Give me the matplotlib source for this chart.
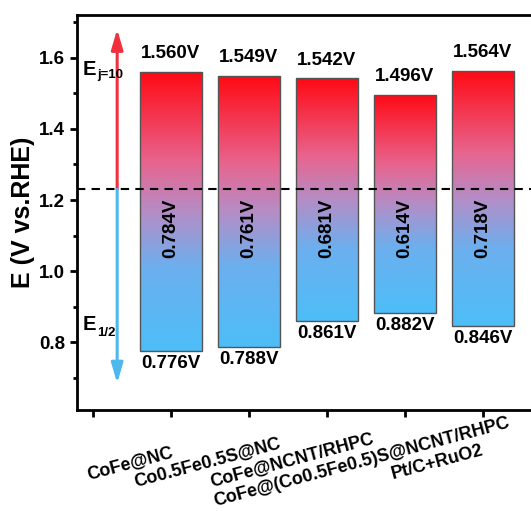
import numpy as np
import matplotlib
matplotlib.use("Agg")
import matplotlib.pyplot as plt
from matplotlib.colors import LinearSegmentedColormap
from matplotlib.transforms import blended_transform_factory

plt.rcParams["font.family"] = ["Liberation Sans", "DejaVu Sans"]
plt.rcParams["font.weight"] = "bold"

samples = ["CoFe@NC", "Co0.5Fe0.5S@NC", "CoFe@NCNT/RHPC",
           "CoFe@(Co0.5Fe0.5)S@NCNT/RHPC", "Pt/C+RuO2"]
e_j10 = [1.560, 1.549, 1.542, 1.496, 1.564]
e_half = [0.776, 0.788, 0.861, 0.882, 0.846]
positions = [1, 2, 3, 4, 5]

# label offsets (pixels) from tick / bottom spine
label_dx = [-41, -42, -35, -43, -46]
label_dy = [-54, -52, -50, -52, -52]

cmap = LinearSegmentedColormap.from_list(
    "orr", [(0.0, "#4dbef8"), (0.3, "#6cafee"), (0.5, "#b58dc6"),
            (0.68, "#e8648e"), (1.0, "#ff0a14")])

fig = plt.figure(figsize=(5.31, 5.11), dpi=100)
ax = fig.add_axes([77 / 531, 1 - 410 / 511, 1 - 77 / 531 + 0.002, (410 - 15) / 511])

grad = np.linspace(0, 1, 256).reshape(-1, 1)
width = 0.8
for x, top, bot in zip(positions, e_j10, e_half):
    bar = ax.bar(x, top - bot, bottom=bot, width=width, facecolor="none",
                 edgecolor="#555555", linewidth=1.0, zorder=3)[0]
    im = ax.imshow(grad, cmap=cmap, origin="lower", aspect="auto",
                   extent=(x - width / 2, x + width / 2, bot, top), zorder=2)
    im.set_clip_path(bar)
    ax.annotate(f"{top:.3f}V", (x, top), xytext=(0, 7), textcoords="offset points",
                ha="center", va="bottom", fontsize=13.5, fontweight="bold")
    ax.annotate(f"{bot:.3f}V", (x, bot), xytext=(0, -3), textcoords="offset points",
                ha="center", va="top", fontsize=13.5, fontweight="bold")
    ax.text(x, 1.12, f"{top - bot:.3f}V", rotation=90, ha="center", va="center",
            fontsize=13.5, fontweight="bold", zorder=4)

ax.axhline(1.23, color="black", linestyle=(0, (4, 3)), linewidth=1.5, zorder=5)

# potential arrows
ax.annotate("", xy=(0.31, 1.68), xytext=(0.31, 1.23), zorder=4,
            arrowprops=dict(arrowstyle="-|>,head_width=0.35,head_length=1.2",
                            color="#f0303c", lw=2.2, shrinkA=0, shrinkB=0))
ax.annotate("", xy=(0.31, 0.685), xytext=(0.31, 1.23), zorder=4,
            arrowprops=dict(arrowstyle="-|>,head_width=0.35,head_length=1.2",
                            color="#4cb8ee", lw=2.2, shrinkA=0, shrinkB=0))

for y, sub, sub_dy in [(1.552, "j=10", -2.2), (0.834, "1/2", -4.3)]:
    ax.text(-0.128, y, "E", fontsize=14.5, fontweight="bold", ha="left",
            va="baseline", zorder=7)
    ax.annotate(sub, (-0.128, y), xytext=(10, sub_dy), textcoords="offset points",
                fontsize=9.5, fontweight="bold", ha="left", va="baseline", zorder=7)

ax.set_xlim(-0.205, 5.63)
ax.set_ylim(0.61, 1.72)
ax.set_yticks([0.8, 1.0, 1.2, 1.4, 1.6])
ax.set_yticks(np.arange(0.7, 1.71, 0.1), minor=True)
ax.set_xticks([0, 1, 2, 3, 4, 5])
ax.set_xticklabels([])
ax.set_ylabel("E (V vs.RHE)", fontsize=18, fontweight="bold", labelpad=3)

trans = blended_transform_factory(ax.transData, ax.transAxes)
for x, name, dx, dy in zip(positions, samples, label_dx, label_dy):
    ax.annotate(name, (x, 0), xycoords=trans, xytext=(dx * 0.72, dy * 0.72),
                textcoords="offset points", rotation=15, ha="center", va="center",
                fontsize=13, fontweight="bold", annotation_clip=False)

for side in ["left", "top", "bottom"]:
    ax.spines[side].set_linewidth(2)
ax.spines["right"].set_visible(False)
ax.tick_params(axis="y", which="major", direction="out", length=5, width=2, labelsize=13.5)
ax.tick_params(axis="y", which="minor", direction="out", length=3, width=2)
ax.tick_params(axis="x", which="major", direction="out", length=5, width=2)
for lab in ax.get_yticklabels():
    lab.set_fontweight("bold")

fig.savefig("out.png", dpi=100)
